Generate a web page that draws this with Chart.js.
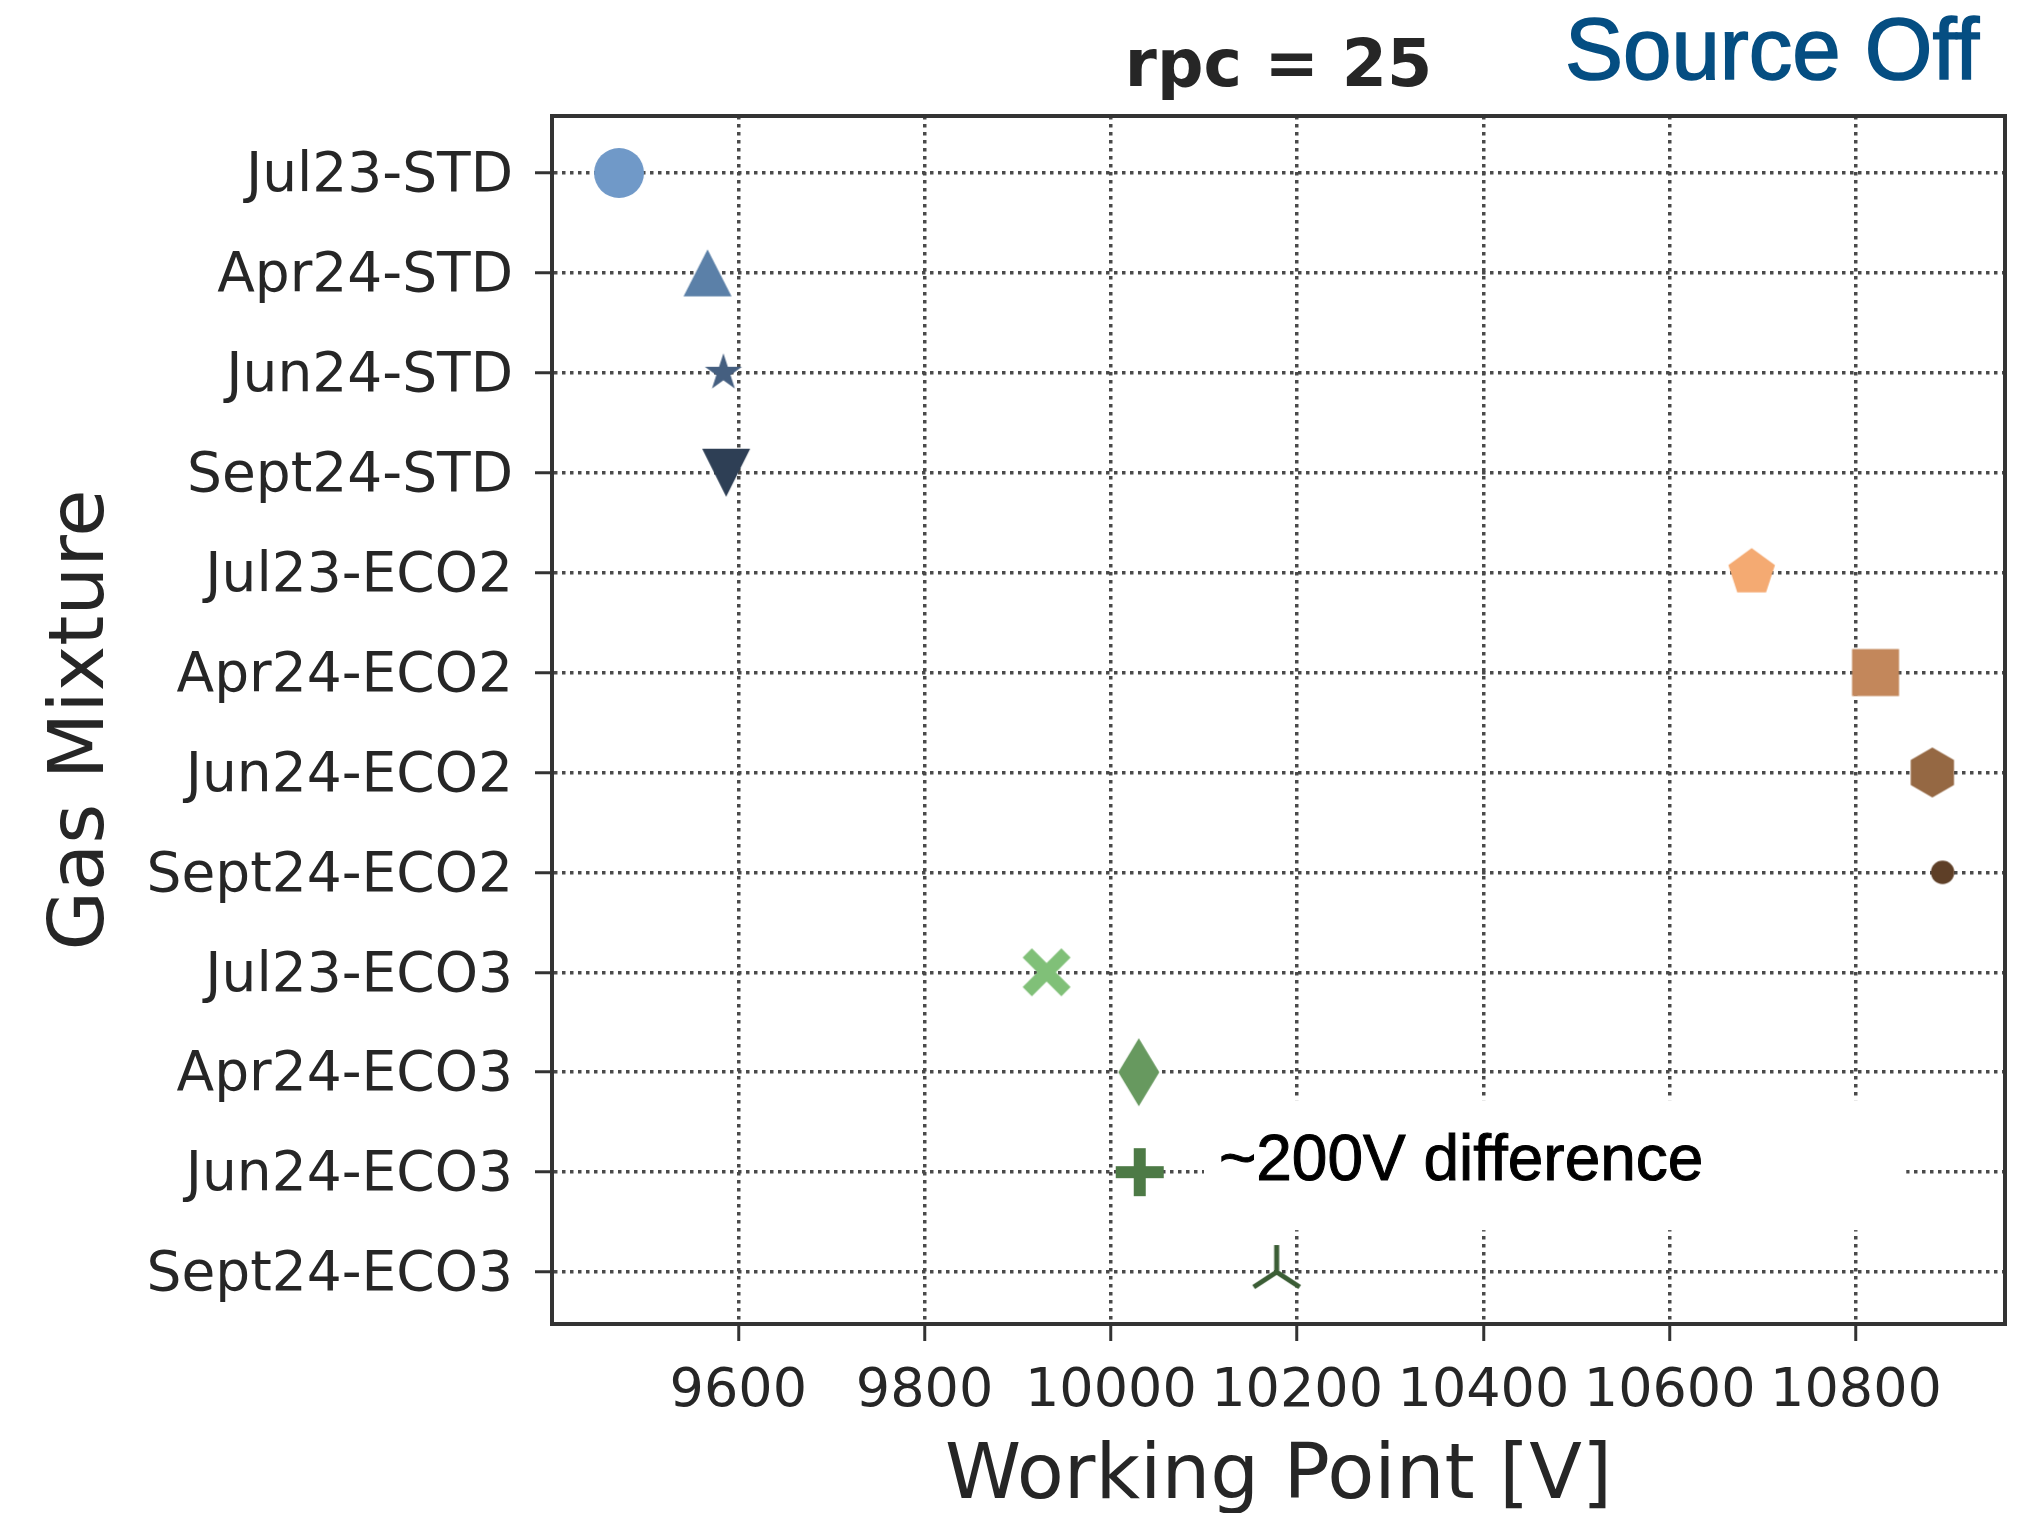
<!DOCTYPE html>
<html>
<head>
<meta charset="utf-8">
<script src="https://cdn.jsdelivr.net/npm/chart.js@4"></script>
<style>
  body { margin: 0; background: #fff; }
  canvas { display: block; }
</style>
</head>
<body>
<canvas id="wpChart" width="2027" height="1513"></canvas>
<script>
// data
var categories = ['Jul23-STD', 'Apr24-STD', 'Jun24-STD', 'Sept24-STD',
                  'Jul23-ECO2', 'Apr24-ECO2', 'Jun24-ECO2', 'Sept24-ECO2',
                  'Jul23-ECO3', 'Apr24-ECO3', 'Jun24-ECO3', 'Sept24-ECO3'];
var workingPoints = [9472, 9567, 9584, 9587, 10688, 10821, 10882, 10893, 9931, 10030, 10031, 10178];
var xTicks = [9600, 9800, 10000, 10200, 10400, 10600, 10800];

// marker styles, one per category
var markerShapes = ['circle', 'triangle', 'star', 'triangleDown', 'pentagon', 'square',
                    'hexagon', 'dot', 'x', 'thinDiamond', 'plus', 'tri'];
var markerColors = ['#7099c8', '#5b80a8', '#455f80', '#2e3f55', '#f4aa72', '#c3875b',
                    '#956843', '#5e3f27', '#80c078', '#67995f', '#4d7a46', '#3b5d35'];

function polygon(g, pts) {
    g.beginPath();
    g.moveTo(pts[0][0], pts[0][1]);
    for (var i = 1; i < pts.length; i++) g.lineTo(pts[i][0], pts[i][1]);
    g.closePath();
    g.fill();
}

function regular(n, r, r2) {
    var pts = [];
    var k = r2 ? n * 2 : n;
    for (var i = 0; i < k; i++) {
        var a = -Math.PI / 2 + i * 2 * Math.PI / k;
        var rr = (r2 && i % 2) ? r2 : r;
        pts.push([rr * Math.cos(a), rr * Math.sin(a)]);
    }
    return pts;
}

function makeMarker(shape, color) {
    var c = document.createElement('canvas');
    c.width = 76; c.height = 76;
    var g = c.getContext('2d');
    g.translate(38, 38);
    g.fillStyle = color;
    g.strokeStyle = color;
    if (shape === 'circle' || shape === 'dot') {
        g.beginPath();
        g.arc(0, 0, shape === 'circle' ? 25 : 11.7, 0, Math.PI * 2);
        g.fill();
    } else if (shape === 'triangle') {
        polygon(g, [[0, -23.5], [24, 23.5], [-24, 23.5]]);
    } else if (shape === 'triangleDown') {
        polygon(g, [[0, 24], [24, -24], [-24, -24]]);
    } else if (shape === 'star') {
        polygon(g, regular(5, 19.5, 19.5 * 0.382));
    } else if (shape === 'pentagon') {
        polygon(g, regular(5, 24.5));
    } else if (shape === 'hexagon') {
        polygon(g, regular(6, 25));
    } else if (shape === 'square') {
        g.fillRect(-23.5, -23.5, 47, 47);
    } else if (shape === 'thinDiamond') {
        polygon(g, [[0, -34], [20.5, 0], [0, 34], [-20.5, 0]]);
    } else if (shape === 'plus' || shape === 'x') {
        var L = shape === 'plus' ? 24 : 27.4;
        var a = shape === 'plus' ? 6 : 6.5;
        if (shape === 'x') g.rotate(Math.PI / 4);
        polygon(g, [[-a, -L], [a, -L], [a, -a], [L, -a], [L, a], [a, a],
                    [a, L], [-a, L], [-a, a], [-L, a], [-L, -a], [-a, -a]]);
    } else if (shape === 'tri') {
        g.lineWidth = 5;
        g.beginPath();
        g.moveTo(0, 0); g.lineTo(0, -27);
        g.moveTo(0, 0); g.lineTo(-23, 15);
        g.moveTo(0, 0); g.lineTo(23, 15);
        g.stroke();
    }
    return c;
}

// title, frame and the pasted text labels
var extras = {
    id: 'extras',
    afterDraw: function(chart) {
        var ctx = chart.ctx, area = chart.chartArea;
        var xs = chart.scales.x, ys = chart.scales.y;
        ctx.save();
        ctx.strokeStyle = '#333333';
        ctx.lineWidth = 4;
        ctx.beginPath();
        ctx.moveTo(area.left - 2, area.top);
        ctx.lineTo(area.right, area.top);
        ctx.lineTo(area.right, area.bottom + 2);
        ctx.stroke();

        ctx.textBaseline = 'alphabetic';
        ctx.fillStyle = '#262626';
        ctx.textAlign = 'center';
        ctx.font = 'bold 65px "DejaVu Sans"';
        ctx.fillText('rpc = 25', (area.left + area.right) / 2, 86);

        ctx.textAlign = 'left';
        ctx.fillStyle = '#054e82';
        ctx.strokeStyle = '#054e82';
        ctx.lineWidth = 1.6;
        ctx.font = '87px "Liberation Sans"';
        ctx.fillText('Source Off', 1565, 79);
        ctx.strokeText('Source Off', 1565, 79);

        // annotation box with white background
        var rowY = ys.getPixelForValue(10);
        var bx0 = xs.getPixelForValue(10100), bx1 = xs.getPixelForValue(10854);
        ctx.fillStyle = '#ffffff';
        ctx.fillRect(bx0, rowY - 72, bx1 - bx0, 130);
        ctx.fillStyle = '#000000';
        ctx.strokeStyle = '#000000';
        ctx.lineWidth = 1;
        ctx.font = '64px "Liberation Sans"';
        ctx.fillText('~200V difference', xs.getPixelForValue(10116), rowY + 8);
        ctx.strokeText('~200V difference', xs.getPixelForValue(10116), rowY + 8);
        ctx.restore();
    }
};

var gridStyle = { color: '#4a4a4a', lineWidth: 3.5, tickLength: 17, tickWidth: 3, tickColor: '#333333', tickBorderDash: [] };
var borderStyle = { display: true, color: '#333333', width: 4, dash: [3.5, 4.5] };

var ctx = document.getElementById('wpChart');

var wpChart = new Chart(ctx, {
    type: 'scatter',
    data: {
        datasets: [{
            data: workingPoints.map(function(v, i) { return { x: v, y: i }; }),
            pointStyle: markerShapes.map(function(s, i) { return makeMarker(s, markerColors[i]); }),
            pointRadius: 10,
            showLine: false,
            clip: false
        }]
    },
    options: {
        responsive: false,
        animation: false,
        events: [],
        layout: { padding: { left: 0, right: 22, top: 116, bottom: 0 } },
        plugins: {
            legend: { display: false },
            tooltip: { enabled: false }
        },
        scales: {
            x: {
                type: 'linear',
                min: 9400,
                max: 10960,
                afterBuildTicks: function(s) { s.ticks = xTicks.map(function(v) { return { value: v }; }); },
                afterFit: function(s) { s.height = 189; },
                ticks: {
                    font: { family: 'DejaVu Sans', size: 54 },
                    color: '#262626',
                    padding: 19,
                    maxRotation: 0,
                    autoSkip: false,
                    callback: function(v) { return String(v); }
                },
                grid: gridStyle,
                border: borderStyle,
                title: {
                    display: true,
                    text: 'Working Point [V]',
                    color: '#262626',
                    font: { family: 'DejaVu Sans', size: 77, lineHeight: 1 },
                    padding: { top: 0, bottom: -3 }
                }
            },
            y: {
                type: 'linear',
                reverse: true,
                min: -0.57,
                max: 11.52,
                afterBuildTicks: function(s) { s.ticks = categories.map(function(c, i) { return { value: i }; }); },
                afterFit: function(s) { s.width = 552; },
                ticks: {
                    font: { family: 'DejaVu Sans', size: 55 },
                    color: '#262626',
                    padding: 22,
                    labelOffset: 4,
                    autoSkip: false,
                    callback: function(v) { return categories[v]; }
                },
                grid: gridStyle,
                border: borderStyle,
                title: {
                    display: true,
                    text: 'Gas Mixture',
                    color: '#262626',
                    font: { family: 'DejaVu Sans', size: 77, lineHeight: 1 },
                    padding: { top: 44, bottom: 0 }
                }
            }
        }
    },
    plugins: [extras]
});
</script>
</body>
</html>
